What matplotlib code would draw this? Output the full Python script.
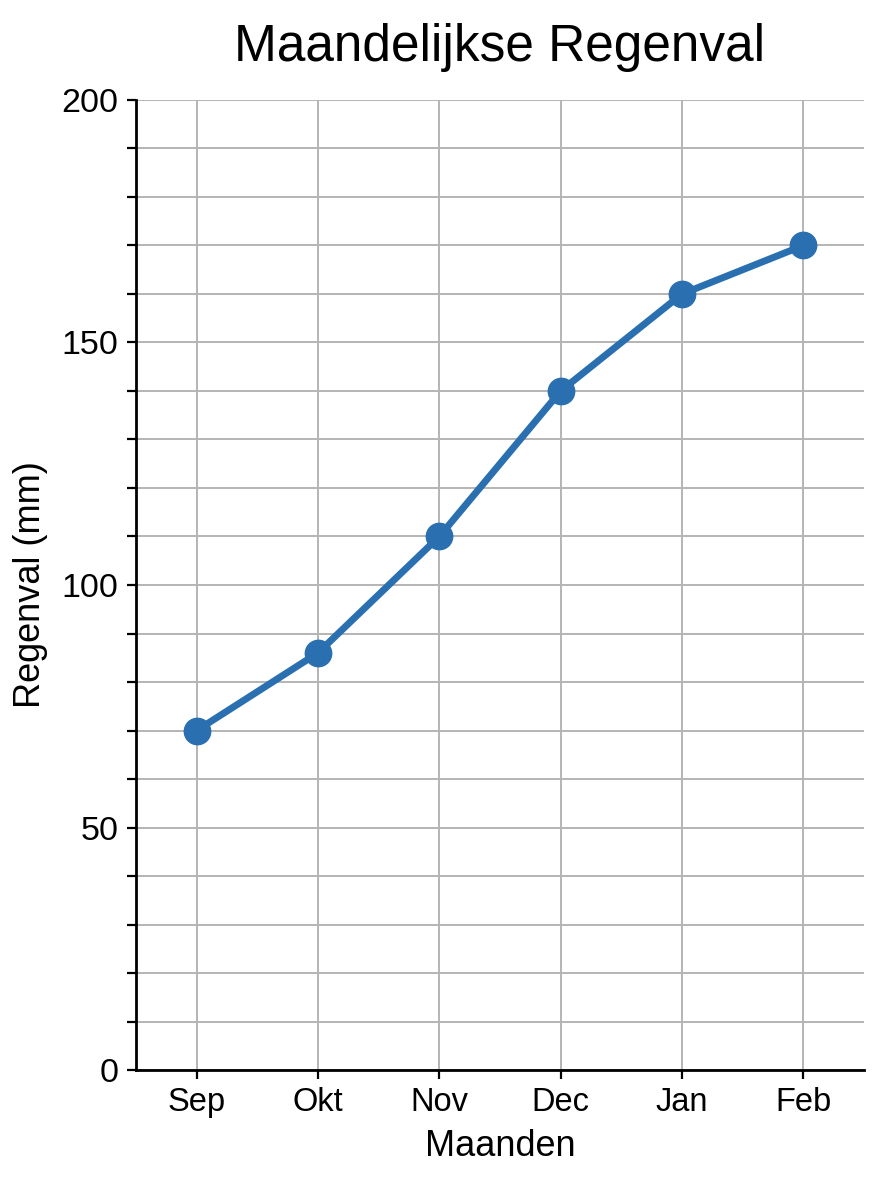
import matplotlib
matplotlib.use('Agg')
import matplotlib.pyplot as plt
from matplotlib.ticker import MultipleLocator

# ─── DATA ────────────────────────────────────────────────────────────────
months = ["Sep", "Okt", "Nov", "Dec", "Jan", "Feb"]
rainfall = [70, 86, 110, 140, 160, 170]

LINE_COL = '#2a70b1'
GRID_COL = '#b4b4b4'

plt.rcParams['font.family'] = ['Liberation Sans', 'DejaVu Sans']

fig = plt.figure(figsize=(8.96, 12), dpi=100, facecolor='white')
ax = fig.add_axes([136/896, 1 - 1070/1200, (864-136)/896, (1070-100)/1200])

x = range(len(months))
ax.plot(x, rainfall, color=LINE_COL, lw=5, marker='o', markersize=19,
        solid_capstyle='round', zorder=3)

ax.set_xlim(-0.5, len(months) - 0.5)
ax.set_ylim(0, 200)
ax.set_xticks(list(x))
ax.set_xticklabels(months)
ax.yaxis.set_major_locator(MultipleLocator(50))
ax.yaxis.set_minor_locator(MultipleLocator(10))

ax.grid(True, which='both', color=GRID_COL, lw=1.4, zorder=0)
ax.set_axisbelow(True)

for sp in ['top', 'right']:
    ax.spines[sp].set_visible(False)
for sp in ['left', 'bottom']:
    ax.spines[sp].set_linewidth(2)
    ax.spines[sp].set_color('black')

ax.tick_params(which='both', length=6.5, width=1.6, colors='black')
ax.tick_params(axis='y', which='major', labelsize=24.5, pad=6)
ax.tick_params(axis='x', which='major', labelsize=23.5, pad=6)

ax.set_title('Maandelijkse Regenval', fontsize=37, pad=28)
ax.set_xlabel('Maanden', fontsize=26, labelpad=8)
ax.set_ylabel('Regenval (mm)', fontsize=26, labelpad=10)

fig.savefig('out.png', dpi=100, facecolor='white')
